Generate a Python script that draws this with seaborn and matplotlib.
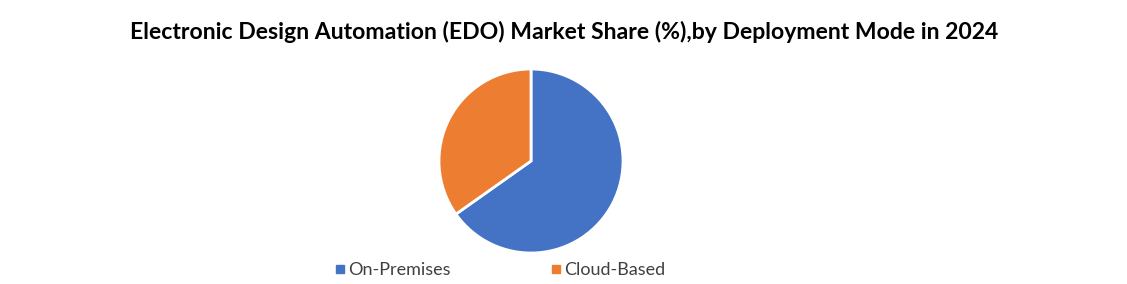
import matplotlib
matplotlib.use("Agg")
import matplotlib.pyplot as plt
import seaborn as sns
from matplotlib.lines import Line2D

categories = ["On-Premises", "Cloud-Based"]
shares = [65.2, 34.8]
colors = ["#4472C4", "#ED7D31"]
title = "Electronic Design Automation (EDO) Market Share (%),by Deployment Mode in 2024"

sns.set_theme(style="white")
plt.rcParams['font.family'] = ['Lato', 'DejaVu Sans']

fig = plt.figure(figsize=(11.27, 2.84), dpi=100)
# pie axes: center (531,161) radius ~92 px
r = 92
cx, cy = 531, 161
W, H = 1127, 284
ax = fig.add_axes([(cx - r) / W, 1 - (cy + r) / H, 2 * r / W, 2 * r / H])
ax.pie(shares, colors=colors, startangle=90, counterclock=False,
       wedgeprops=dict(edgecolor="white", linewidth=2))
ax.set_aspect("equal")
ax.set_xlim(-1, 1)
ax.set_ylim(-1, 1)

fig.text(564 / W, 1 - 32 / H, title, ha="center", va="center",
         fontsize=16.6, fontweight="bold", color="#000000")

handles = [Line2D([0], [0], marker="s", linestyle="", markersize=5.5,
                  markerfacecolor=c, markeredgecolor=c) for c in colors]
fig.legend(handles, categories, loc="center", bbox_to_anchor=(500 / W, 1 - 270 / H),
           ncol=2, frameon=False, fontsize=13, columnspacing=5.6, handletextpad=0.2,
           handlelength=0.5, labelcolor="#404040")

fig.savefig("out.png", dpi=100)
